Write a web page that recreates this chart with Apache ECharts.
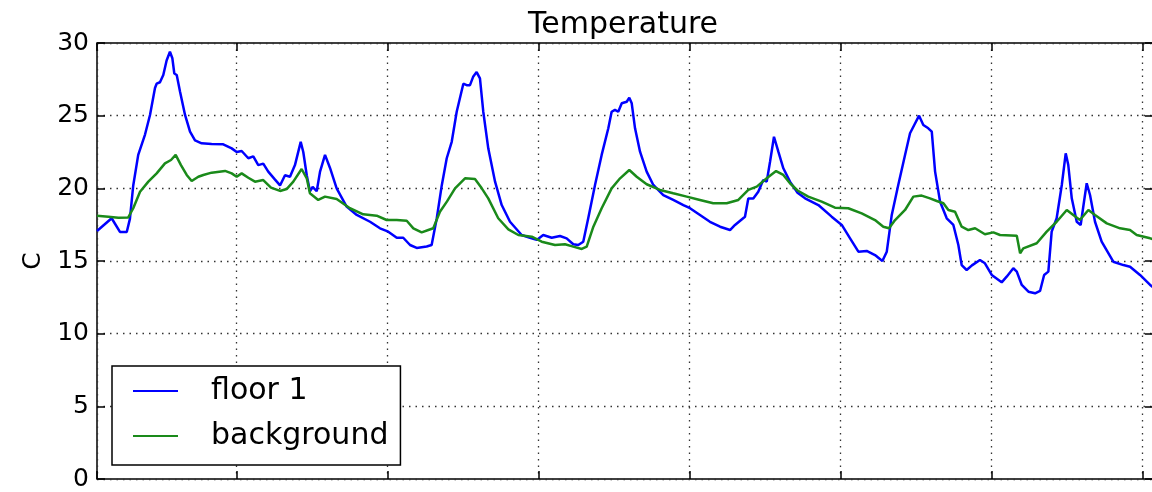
<!DOCTYPE html>
<html lang="en">
<head>
    <meta charset="UTF-8">
    <script src="https://cdn.jsdelivr.net/npm/echarts@6/dist/echarts.min.js"></script>
    <title>Temperature</title>
    <style>
        html, body { margin: 0; padding: 0; background: #fff; }
        #main { width: 1152px; height: 492px; }
    </style>
</head>
<body>
    <div id="main"></div>
    <script>
        // x in days (gridline = midnight), y in degrees C
        var floor1 = [
            [-0.925, 17.06], [-0.828, 17.94], [-0.773, 17.0], [-0.728, 17.0], [-0.707, 17.9], [-0.685, 20.2],
            [-0.652, 22.3], [-0.607, 23.7], [-0.574, 25.05], [-0.541, 26.9], [-0.530, 27.2], [-0.508, 27.3],
            [-0.486, 27.8], [-0.464, 28.8], [-0.442, 29.4], [-0.426, 28.95], [-0.413, 27.9], [-0.397, 27.8],
            [-0.375, 26.65], [-0.342, 25.05], [-0.309, 23.9], [-0.276, 23.3], [-0.232, 23.1], [-0.166, 23.05],
            [-0.089, 23.03], [-0.033, 22.75], [0.0, 22.5], [0.033, 22.57], [0.077, 22.07], [0.110, 22.2],
            [0.143, 21.6], [0.176, 21.7], [0.209, 21.15], [0.254, 20.6], [0.287, 20.2], [0.320, 20.9],
            [0.353, 20.8], [0.386, 21.6], [0.424, 23.2], [0.441, 22.5], [0.464, 20.9], [0.485, 19.8],
            [0.503, 20.1], [0.530, 19.8], [0.552, 21.15], [0.585, 22.3], [0.618, 21.4], [0.662, 20.0],
            [0.728, 18.74], [0.795, 18.17], [0.883, 17.7], [0.949, 17.25], [1.004, 17.02], [1.060, 16.6],
            [1.103, 16.6], [1.148, 16.1], [1.192, 15.9], [1.258, 16.0], [1.291, 16.1], [1.325, 17.94],
            [1.358, 20.2], [1.391, 22.07], [1.424, 23.2], [1.457, 25.27], [1.501, 27.2], [1.523, 27.1],
            [1.545, 27.1], [1.567, 27.7], [1.589, 28.0], [1.611, 27.57], [1.633, 25.27], [1.666, 22.75],
            [1.711, 20.46], [1.755, 18.85], [1.810, 17.7], [1.887, 16.79], [1.942, 16.6], [1.987, 16.45],
            [2.030, 16.79], [2.086, 16.6], [2.141, 16.72], [2.185, 16.56], [2.229, 16.15], [2.262, 16.1],
            [2.295, 16.33], [2.328, 17.94], [2.373, 20.23], [2.417, 22.3], [2.461, 24.13], [2.483, 25.27],
            [2.505, 25.4], [2.527, 25.27], [2.550, 25.85], [2.583, 25.96], [2.600, 26.24], [2.616, 25.85],
            [2.638, 24.13], [2.671, 22.52], [2.715, 21.15], [2.759, 20.23], [2.825, 19.54], [2.891, 19.2],
            [2.958, 18.85], [3.002, 18.63], [3.068, 18.17], [3.134, 17.7], [3.201, 17.36], [3.267, 17.13],
            [3.300, 17.48], [3.366, 18.05], [3.388, 19.3], [3.421, 19.3], [3.454, 19.77], [3.487, 20.57],
            [3.510, 20.46], [3.532, 21.83], [3.558, 23.55], [3.587, 22.52], [3.620, 21.38], [3.664, 20.46],
            [3.714, 19.7], [3.764, 19.31], [3.852, 18.85], [3.940, 18.05], [4.007, 17.48], [4.062, 16.56],
            [4.117, 15.64], [4.172, 15.69], [4.227, 15.41], [4.276, 15.0], [4.305, 15.64], [4.338, 18.17],
            [4.381, 20.23], [4.426, 22.3], [4.459, 23.79], [4.487, 24.36], [4.519, 25.0], [4.547, 24.36],
            [4.580, 24.13], [4.603, 23.9], [4.625, 21.15], [4.658, 19.08], [4.702, 17.94], [4.746, 17.48],
            [4.779, 16.1], [4.801, 14.72], [4.834, 14.38], [4.869, 14.7], [4.922, 15.07], [4.955, 14.84],
            [5.000, 14.04], [5.066, 13.53], [5.099, 13.92], [5.143, 14.5], [5.166, 14.27], [5.199, 13.35],
            [5.243, 12.89], [5.287, 12.78], [5.320, 12.94], [5.347, 14.04], [5.375, 14.27], [5.397, 17.02],
            [5.430, 17.94], [5.464, 20.23], [5.490, 22.41], [5.507, 21.6], [5.530, 19.31], [5.563, 17.7],
            [5.589, 17.48], [5.611, 19.08], [5.629, 20.35], [5.651, 19.54], [5.684, 17.7], [5.728, 16.33],
            [5.805, 14.95], [5.872, 14.72], [5.916, 14.61], [5.982, 14.04], [6.049, 13.35], [6.068, 13.2]
        ];

        var background = [
            [-0.925, 18.12], [-0.850, 18.05], [-0.784, 17.98], [-0.718, 18.0], [-0.685, 18.63], [-0.640, 19.77],
            [-0.585, 20.46], [-0.530, 21.03], [-0.475, 21.72], [-0.435, 21.95], [-0.404, 22.3], [-0.369, 21.6],
            [-0.331, 20.92], [-0.298, 20.5], [-0.254, 20.8], [-0.221, 20.92], [-0.166, 21.08], [-0.077, 21.2],
            [-0.033, 21.03], [0.0, 20.8], [0.033, 21.03], [0.077, 20.73], [0.121, 20.46], [0.176, 20.57],
            [0.227, 20.05], [0.287, 19.82], [0.331, 19.95], [0.375, 20.46], [0.430, 21.33], [0.464, 20.69],
            [0.485, 19.66], [0.540, 19.2], [0.585, 19.43], [0.662, 19.27], [0.750, 18.63], [0.838, 18.21],
            [0.927, 18.12], [0.993, 17.82], [1.060, 17.82], [1.126, 17.77], [1.170, 17.25], [1.225, 16.97],
            [1.269, 17.13], [1.302, 17.25], [1.346, 18.39], [1.393, 19.1], [1.446, 20.0], [1.512, 20.69],
            [1.578, 20.64], [1.623, 20.0], [1.666, 19.31], [1.732, 17.94], [1.799, 17.18], [1.865, 16.79],
            [1.954, 16.67], [2.020, 16.33], [2.108, 16.1], [2.174, 16.15], [2.229, 15.99], [2.285, 15.83],
            [2.318, 15.99], [2.362, 17.36], [2.417, 18.63], [2.483, 20.0], [2.539, 20.69], [2.600, 21.26],
            [2.649, 20.8], [2.715, 20.28], [2.803, 19.89], [2.891, 19.66], [2.980, 19.43], [3.068, 19.2],
            [3.156, 18.97], [3.245, 18.97], [3.322, 19.2], [3.388, 19.89], [3.444, 20.12], [3.510, 20.69],
            [3.572, 21.19], [3.620, 20.92], [3.664, 20.35], [3.714, 19.85], [3.785, 19.43], [3.874, 19.08],
            [3.962, 18.67], [4.050, 18.63], [4.139, 18.28], [4.227, 17.82], [4.282, 17.36], [4.320, 17.25],
            [4.360, 17.82], [4.426, 18.51], [4.481, 19.43], [4.536, 19.5], [4.591, 19.31], [4.636, 19.13],
            [4.680, 18.97], [4.713, 18.51], [4.757, 18.39], [4.801, 17.36], [4.845, 17.13], [4.890, 17.25],
            [4.955, 16.84], [5.011, 16.97], [5.055, 16.79], [5.166, 16.74], [5.188, 15.53], [5.209, 15.87],
            [5.298, 16.22], [5.364, 17.02], [5.430, 17.7], [5.497, 18.51], [5.540, 18.17], [5.584, 17.82],
            [5.640, 18.51], [5.684, 18.17], [5.762, 17.59], [5.850, 17.25], [5.916, 17.13], [5.960, 16.79],
            [6.049, 16.56], [6.068, 16.5]
        ];

        var seriesNames = ['floor 1', 'background'];
        var seriesColors = ['#0000ff', '#1a8a1a'];
        var dayRange = [-0.925, 6.068];
        var tempRange = [0, 30];

        var font = 'DejaVu Sans';
        var dotted = { color: '#333', width: 1.3, type: [1.5, 5] };
        var tickStyle = { inside: true, length: 8, lineStyle: { color: '#000', width: 1.5 } };
        var noLine = { show: false, onZero: false };

        var chart = echarts.init(document.getElementById('main'));
        chart.setOption({
            animation: false,
            title: {
                text: 'Temperature',
                left: 528,
                top: 10,
                padding: 0,
                textStyle: { fontFamily: font, fontSize: 30, fontWeight: 'normal', color: '#000' }
            },
            grid: {
                left: 97, top: 43, width: 1056, height: 436,
                show: true, borderColor: '#000', borderWidth: 1.5,
                outerBoundsMode: 'none'
            },
            legend: {
                orient: 'vertical',
                left: 112,
                top: 366,
                padding: [10, 12, 14, 21],
                icon: 'path://M0,0H45V2H0Z',
                itemWidth: 45,
                itemHeight: 30,
                itemGap: 15,
                backgroundColor: '#fff',
                borderColor: '#000',
                borderWidth: 1.5,
                selectedMode: false,
                textStyle: { fontFamily: font, fontSize: 30, color: '#000', lineHeight: 30, padding: [0, 0, 0, 28] },
                data: seriesNames
            },
            xAxis: [
                {
                    type: 'value', min: dayRange[0], max: dayRange[1],
                    minInterval: 1, maxInterval: 1,
                    axisLine: noLine,
                    axisTick: tickStyle,
                    axisLabel: { show: false },
                    splitLine: { show: true, lineStyle: dotted }
                },
                {
                    type: 'value', position: 'top', min: dayRange[0], max: dayRange[1],
                    minInterval: 1, maxInterval: 1,
                    axisLine: noLine,
                    axisTick: tickStyle,
                    axisLabel: { show: false },
                    splitLine: { show: false }
                }
            ],
            yAxis: [
                {
                    type: 'value', position: 'left', min: tempRange[0], max: tempRange[1], interval: 5,
                    name: 'C', nameLocation: 'middle', nameGap: 50,
                    nameTextStyle: { fontFamily: font, fontSize: 25, color: '#000' },
                    axisLine: noLine,
                    axisTick: tickStyle,
                    axisLabel: { fontFamily: font, fontSize: 25, color: '#000', margin: 8 },
                    splitLine: { show: true, lineStyle: dotted }
                },
                {
                    type: 'value', position: 'right', min: tempRange[0], max: tempRange[1], interval: 5,
                    axisLine: noLine,
                    axisTick: tickStyle,
                    axisLabel: { show: false },
                    splitLine: { show: false }
                }
            ],
            series: [
                {
                    name: seriesNames[0], type: 'line', data: floor1,
                    symbol: 'none', color: seriesColors[0],
                    lineStyle: { width: 2.5, color: seriesColors[0] }
                },
                {
                    name: seriesNames[1], type: 'line', data: background,
                    symbol: 'none', color: seriesColors[1],
                    lineStyle: { width: 2.5, color: seriesColors[1] }
                }
            ]
        });
    </script>
</body>
</html>
